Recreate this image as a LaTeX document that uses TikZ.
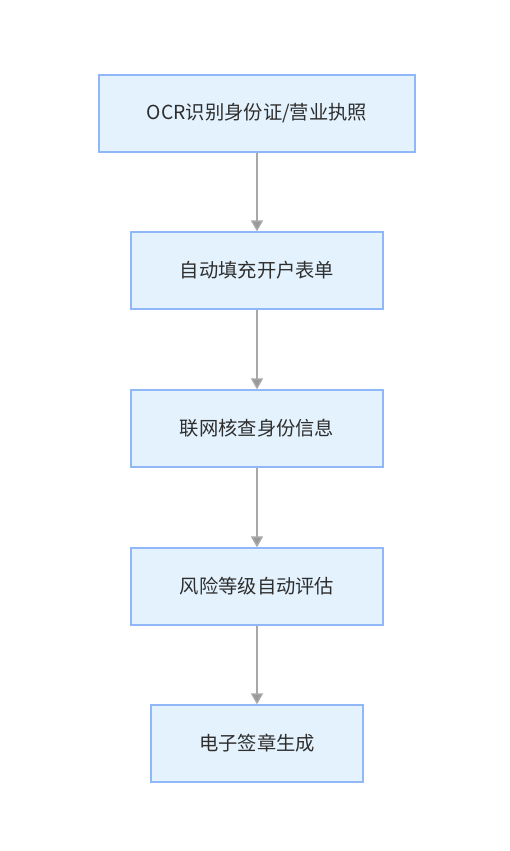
\documentclass[tikz,border=0pt]{standalone}
\usepackage{fontspec}
\setmainfont{Noto Sans CJK SC}
\usetikzlibrary{arrows.meta}
\definecolor{boxfill}{HTML}{E3F2FD}
\definecolor{boxline}{HTML}{90B8F8}
\definecolor{txt}{HTML}{2E2E2E}
\definecolor{arr}{HTML}{A8A8A8}
\definecolor{arrhead}{HTML}{999999}
\begin{document}
\begin{tikzpicture}[x=1pt,y=-1pt,
  stepbox/.style={draw=boxline,fill=boxfill,line width=1.3pt,minimum height=77pt,inner sep=0pt,
    font=\fontsize{19.3}{23}\selectfont,text=txt},
  conn/.style={draw=arr,line width=1.4pt,-{Triangle[length=11pt,width=12pt,fill=arrhead]}}]
\useasboundingbox (0,0) rectangle (510,851);
\fill[white] (0,0) rectangle (510,851);
\node[stepbox,minimum width=316pt] (a) at (257,113.5) {OCR识别身份证/营业执照};
\node[stepbox,minimum width=252pt] (b) at (257,270.5) {自动填充开户表单};
\node[stepbox,minimum width=252pt] (c) at (257,428.5) {联网核查身份信息};
\node[stepbox,minimum width=252pt] (d) at (257,586.5) {风险等级自动评估};
\node[stepbox,minimum width=212pt] (e) at (257,743.5) {电子签章生成};
\draw[conn] (a) -- (b);
\draw[conn] (b) -- (c);
\draw[conn] (c) -- (d);
\draw[conn] (d) -- (e);
\end{tikzpicture}
\end{document}
